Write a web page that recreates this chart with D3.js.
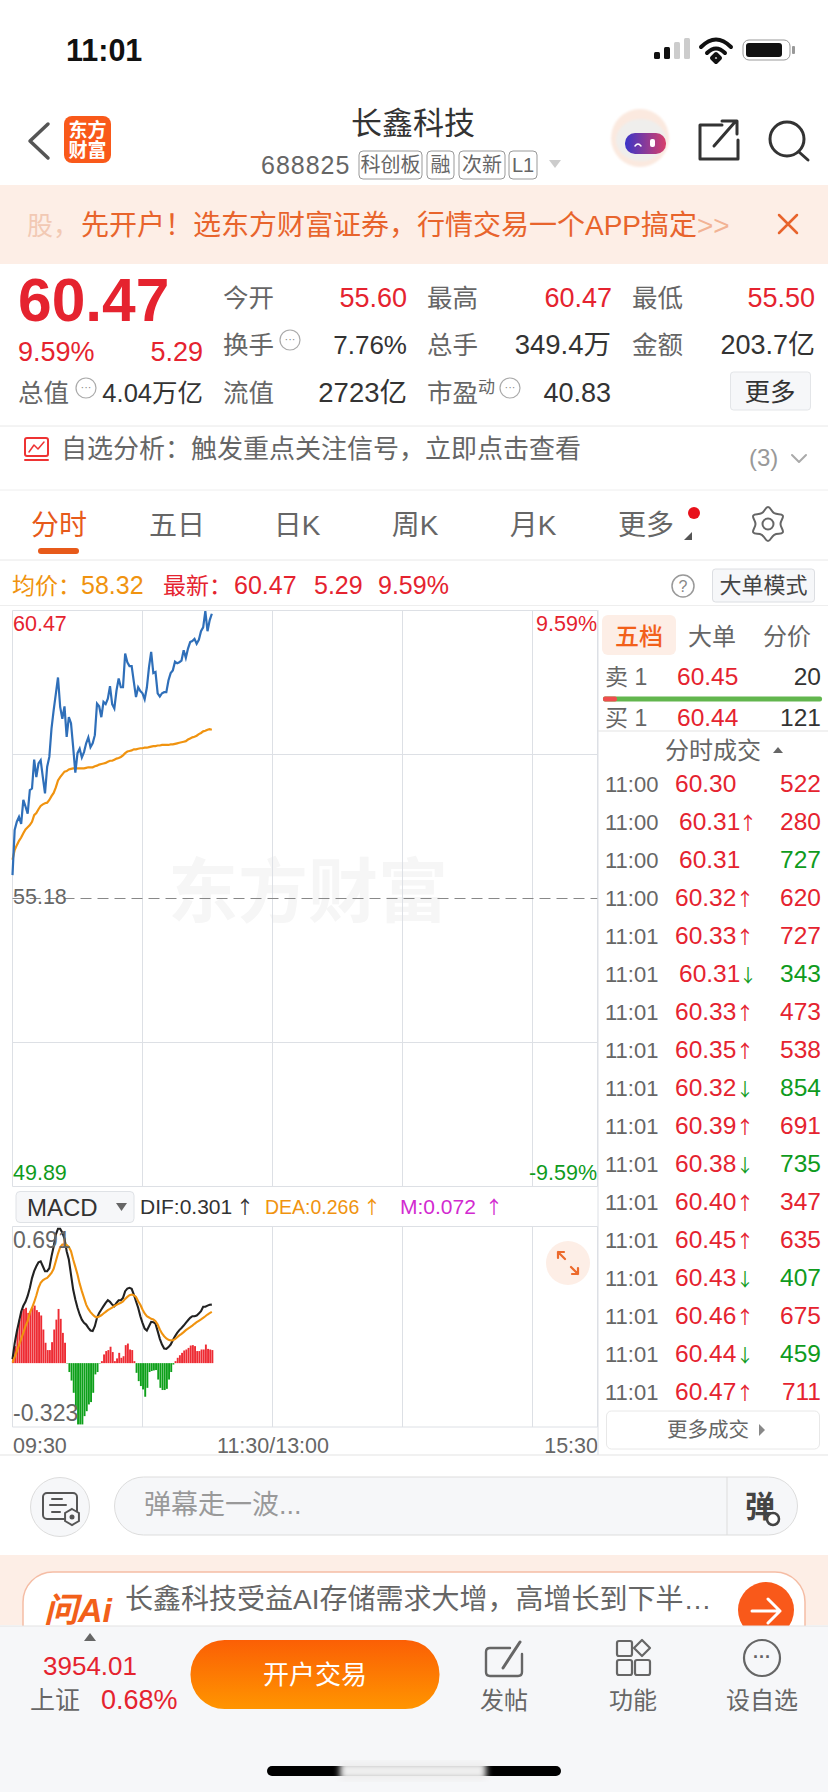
<!DOCTYPE html>
<html lang="zh">
<head>
<meta charset="UTF-8">
<title>长鑫科技 分时</title>
<script src="https://d3js.org/d3.v7.min.js"></script>
<style>
  html, body { margin: 0; padding: 0; background: #fff; }
  svg { display: block; }
  text { font-family: "Liberation Sans", "Noto Sans CJK SC", sans-serif; }
</style>
</head>
<body>
<svg id="app" width="828" height="1792"></svg>
<script>
// 分时价格，每分钟一个点，从 09:30 开始
const price = [55.61,56.44,56.59,56.68,56.55,56.99,56.87,56.74,57.17,57.20,57.73,57.41,57.66,57.72,57.41,57.11,57.60,57.78,58.30,58.64,58.94,59.24,58.70,58.48,58.71,58.15,58.51,58.40,57.96,57.49,57.85,57.93,57.77,57.87,58.03,58.14,57.96,58.03,58.18,58.76,58.71,58.51,58.79,58.75,58.85,59.08,58.75,58.67,59.00,59.22,59.06,59.06,59.68,59.52,59.45,59.45,59.16,58.88,59.06,58.99,58.95,58.84,59.05,59.43,59.71,59.32,59.34,58.95,58.89,58.95,58.97,58.97,59.19,59.32,59.37,59.53,59.50,59.52,59.55,59.74,59.60,59.77,59.89,59.91,59.95,59.86,59.93,60.09,60.16,60.46,60.09,60.29,60.41];
const avgPrice = [55.89,56.07,56.16,56.24,56.30,56.38,56.45,56.49,56.53,56.59,56.71,56.75,56.82,56.88,56.91,56.93,56.94,56.99,57.06,57.12,57.22,57.35,57.41,57.46,57.51,57.52,57.55,57.56,57.57,57.57,57.57,57.57,57.57,57.57,57.58,57.59,57.59,57.59,57.61,57.62,57.64,57.65,57.66,57.67,57.69,57.71,57.71,57.73,57.75,57.76,57.78,57.81,57.85,57.88,57.89,57.90,57.92,57.92,57.93,57.94,57.94,57.95,57.95,57.96,57.97,57.98,57.98,57.99,57.99,58.00,58.00,58.00,58.00,58.01,58.01,58.02,58.03,58.04,58.05,58.06,58.07,58.10,58.12,58.14,58.15,58.17,58.20,58.22,58.25,58.26,58.28,58.29,58.28];
const macdHist = [.02,.086,.17,.22,.263,.274,.28,.254,.263,.28,.291,.268,.258,.241,.17,.103,.066,.066,.106,.17,.22,.274,.224,.153,.103,-.002,-.045,-.088,-.15,-.234,-.31,-.31,-.31,-.268,-.243,-.209,-.197,-.15,-.057,-.045,-.002,.01,.044,.061,.066,.083,.056,.01,.024,.052,.027,.035,.091,.099,.069,.066,.01,-.049,-.091,-.116,-.133,-.17,-.125,-.045,-.04,-.037,-.035,-.083,-.125,-.136,-.136,-.13,-.083,-.045,-.007,.01,.027,.04,.052,.064,.069,.077,.089,.091,.086,.061,.061,.069,.069,.094,.072,.069,.066];
const dif = [.02,.10,.16,.21,.26,.29,.31,.34,.38,.43,.465,.49,.51,.515,.49,.465,.465,.48,.54,.59,.65,.68,.68,.66,.63,.566,.524,.448,.372,.322,.28,.246,.22,.204,.195,.178,.165,.162,.187,.229,.254,.271,.288,.305,.318,.31,.296,.288,.305,.318,.318,.33,.364,.377,.381,.376,.347,.313,.28,.237,.204,.175,.165,.187,.209,.207,.2,.162,.123,.094,.074,.072,.081,.094,.116,.136,.153,.167,.178,.19,.204,.217,.229,.237,.237,.241,.251,.263,.285,.285,.291,.295,.296];
const dea = [.002,.03,.061,.091,.123,.153,.187,.212,.254,.28,.308,.342,.381,.406,.419,.426,.431,.443,.456,.477,.515,.554,.586,.6,.6,.598,.588,.566,.524,.487,.448,.402,.364,.33,.296,.274,.258,.246,.236,.232,.236,.242,.251,.259,.268,.274,.281,.288,.295,.3,.305,.312,.325,.335,.344,.347,.344,.335,.313,.295,.271,.251,.237,.231,.224,.221,.212,.195,.17,.15,.136,.125,.118,.115,.116,.121,.131,.14,.148,.157,.167,.175,.182,.19,.199,.207,.214,.221,.229,.237,.246,.253,.259];

const gridMinutes = [0, 60, 120, 180, 240, 270];
const gridPrices = [60.47, 57.825, 52.535, 49.89];
const preClose = 55.18;
const timeTicks = [0, 120, 270];
const timeLabels = ["09:30", "11:30/13:00", "15:30"];

const trades = [
  ["11:00","60.30","","522","r"],["11:00","60.31","↑","280","r"],["11:00","60.31","","727","g"],
  ["11:00","60.32","↑","620","r"],["11:01","60.33","↑","727","r"],["11:01","60.31","↓","343","g"],
  ["11:01","60.33","↑","473","r"],["11:01","60.35","↑","538","r"],["11:01","60.32","↓","854","g"],
  ["11:01","60.39","↑","691","r"],["11:01","60.38","↓","735","g"],["11:01","60.40","↑","347","r"],
  ["11:01","60.45","↑","635","r"],["11:01","60.43","↓","407","g"],["11:01","60.46","↑","675","r"],
  ["11:01","60.44","↓","459","g"],["11:01","60.47","↑","711","r"]
];
const tabs = [["分时",59],["五日",177],["日K",297],["周K",415],["月K",533],["更多",646]];

const RED = "#e5232f", GREEN = "#0f9b1d", ORANGE = "#f0930f", GRAY = "#666", DARK = "#333", LINE = "#dde0e5";
const svg = d3.select("#app");

function txt(x, y, s, size, fill, anchor, weight) {
  return svg.append("text").attr("x", x).attr("y", y).text(s)
    .attr("font-size", size).attr("fill", fill || DARK)
    .attr("text-anchor", anchor || "start").attr("font-weight", weight || 400);
}
function rect(x, y, w, h, fill, stroke, r) {
  return svg.append("rect").attr("x", x).attr("y", y).attr("width", w).attr("height", h)
    .attr("fill", fill || "none").attr("stroke", stroke || "none").attr("rx", r || 0);
}
function hline(x1, x2, y, c) {
  svg.append("line").attr("x1", x1).attr("x2", x2).attr("y1", y).attr("y2", y).attr("stroke", c || LINE).attr("stroke-width", 1);
}
function path(d, stroke, w, fill) {
  return svg.append("path").attr("d", d).attr("stroke", stroke || "none").attr("stroke-width", w || 2)
    .attr("fill", fill || "none").attr("stroke-linecap", "round").attr("stroke-linejoin", "round");
}
// 箭头单独用 CJK 字体，Liberation 的箭头太窄
function arrow(x, y, s, size, fill) {
  return txt(x, y, s, size, fill).style("font-family", '"Noto Sans CJK SC"');
}

const defs = svg.append("defs");
const grad = defs.append("linearGradient").attr("id", "btn").attr("x1", 0).attr("x2", 0).attr("y1", 0).attr("y2", 1);
grad.append("stop").attr("offset", 0).attr("stop-color", "#fb5f05");
grad.append("stop").attr("offset", 1).attr("stop-color", "#ff9500");
const visor = defs.append("linearGradient").attr("id", "visor");
visor.append("stop").attr("offset", 0).attr("stop-color", "#3a35c8");
visor.append("stop").attr("offset", 1).attr("stop-color", "#d8406a");
const soft = defs.append("filter").attr("id", "soft").attr("x", "-10%").attr("width", "120%");
soft.append("feGaussianBlur").attr("stdDeviation", 3);
const soft2 = defs.append("filter").attr("id", "soft2").attr("x", "-20%").attr("y", "-20%").attr("width", "140%").attr("height", "140%");
soft2.append("feGaussianBlur").attr("stdDeviation", 1.2);

// 状态栏
txt(66, 61, "11:01", 30.5, "#111", "start", 600);
[[654,52,7],[664,47,12],[674,42,17],[684,38,21]].forEach((b, i) => rect(b[0], b[1], 6, b[2], i < 2 ? "#111" : "#ccc", null, 1.5));
path("M701 47 Q716 32 731 47 M707 53 Q716 44 725 53 M712 58 L716 54 L720 58 L716 62 Z", "#111", 4);
rect(743, 40, 47, 20, "none", "#999", 6);
rect(746, 43, 36, 14, "#111", null, 3);
rect(792, 46, 3, 8, "#999", null, 1);

// 标题栏
path("M48 124 L30 141 L48 158", "#555", 3.5);
rect(64, 116, 47, 47, "#f9591a", null, 8);
txt(87.5, 137, "东方", 19, "#fff", "middle", 700);
txt(87.5, 157, "财富", 19, "#fff", "middle", 700);
txt(413, 134, "长鑫科技", 31, DARK, "middle");
txt(261, 174, "688825", 25, GRAY).attr("letter-spacing", 1);
[[359,63,"科创板"],[427,27,"融"],[459,46,"次新"],[509,28,"L1"]].forEach(b => {
  rect(b[0], 151, b[1], 28, "#fff", "#999", 4);
  txt(b[0] + b[1] / 2, 172, b[2], 20, GRAY, "middle");
});
path("M549 160 L561 160 L555 168 Z", null, 0, "#ccc");
svg.append("circle").attr("cx", 640).attr("cy", 138).attr("r", 29).attr("fill", "#fbe9df").attr("filter", "url(#soft2)");
svg.append("ellipse").attr("cx", 641).attr("cy", 140).attr("rx", 25).attr("ry", 21).attr("fill", "#efeeec").attr("filter", "url(#soft2)");
rect(625, 133, 41, 21, "url(#visor)", null, 10);
path("M635 146 Q638 142 641 146", "#fff", 1.5);
rect(650, 139, 5, 8, "#fff", null, 2);
path("M722 125 L700 125 L700 159 L738 159 L738 140 M714 146 L735 122 M722 121 L737 121 L737 134", "#333", 3);
svg.append("circle").attr("cx", 787).attr("cy", 139).attr("r", 17).attr("fill", "none").attr("stroke", "#333").attr("stroke-width", 3);
path("M799 152 L808 160", "#333", 3);

// 开户横幅
rect(0, 185, 828, 79, "#fdeee6");
txt(27, 235, "股，", 26, "#f2c9b4");
txt(81, 235, "先开户！选东方财富证券，行情交易一个APP搞定", 28, "#e8642c");
txt(697, 235, ">>", 28, "#f2b394");
path("M779 215 L797 233 M797 215 L779 233", "#e8642c", 2.5);

// 行情数据
txt(18, 321, "60.47", 60.5, RED, "start", 700);
txt(18, 361, "9.59%", 27, RED);
txt(203, 361, "5.29", 27, RED, "end");
const quote = [
  [223, 307, "今开", 407, "55.60", RED, 27], [427, 307, "最高", 612, "60.47", RED, 27], [632, 307, "最低", 815, "55.50", RED, 27],
  [223, 354, "换手", 407, "7.76%", DARK, 26], [427, 354, "总手", 611, "349.4万", DARK, 27.5], [632, 354, "金额", 815, "203.7亿", DARK, 27],
  [223, 402, "流值", 407, "2723亿", DARK, 27.5], [427, 402, "市盈", 611, "40.83", DARK, 27]
];
quote.forEach(q => { txt(q[0], q[1], q[2], 25.5, GRAY); txt(q[3], q[1], q[4], q[6], q[5], "end"); });
txt(18, 402, "总值", 25.5, GRAY);
txt(203, 402, "4.04万亿", 25.5, DARK, "end");
txt(478, 393, "动", 17, GRAY);
[[290,340],[86,388],[510,388]].forEach(c => {
  svg.append("circle").attr("cx", c[0]).attr("cy", c[1]).attr("r", 10).attr("fill", "none").attr("stroke", "#aaa").attr("stroke-width", 1.2);
  txt(c[0], c[1] + 3, "···", 11, "#888", "middle");
});
rect(730.5, 372, 80, 38, "#f6f7f9", "#e3e5e8", 3);
txt(770, 401, "更多", 25.5, DARK, "middle");
hline(0, 828, 426, "#e8e8e8");

// 自选分析
rect(25, 438, 23, 18, "none", "#e33", 2).attr("stroke-width", 2);
path("M29 452 L34 445 L38 449 L44 442", "#e33", 1.5);
path("M25 460 L48 460", "#e33", 2);
txt(61, 458, "自选分析：触发重点关注信号，立即点击查看", 26, GRAY);
txt(749, 466, "(3)", 24, "#999");
path("M792 455 L799 462 L806 455", "#aaa", 2);
hline(0, 828, 490, "#eee");

// 周期标签
tabs.forEach((t, i) => txt(t[1], 535, t[0], 28, i == 0 ? "#e75a1a" : GRAY, "middle"));
rect(38, 548, 41, 6, "#e75a1a", null, 3);
svg.append("circle").attr("cx", 694).attr("cy", 513).attr("r", 6).attr("fill", "#e8111b");
path("M684 540 L692 532 L692 540 Z", null, 0, "#555");
const gearPts = d3.range(12).map(i => [i * Math.PI / 6, i % 2 ? 12.5 : 17]);
svg.append("path").attr("transform", "translate(768,524)")
  .attr("d", d3.lineRadial().curve(d3.curveCardinalClosed.tension(-0.3))(gearPts))
  .attr("fill", "none").attr("stroke", "#666").attr("stroke-width", 2);
svg.append("circle").attr("cx", 768).attr("cy", 524).attr("r", 5.5).attr("fill", "none").attr("stroke", "#666").attr("stroke-width", 2);
hline(0, 828, 560, "#e8e8e8");

// 均价行
txt(12, 594, "均价：", 23, ORANGE);
txt(81, 594, "58.32", 25, ORANGE);
txt(163, 594, "最新：", 23, RED);
txt(234, 594, "60.47", 25, RED);
txt(314, 594, "5.29", 25, RED);
txt(378, 594, "9.59%", 25, RED);
svg.append("circle").attr("cx", 683).attr("cy", 586).attr("r", 11).attr("fill", "none").attr("stroke", "#999").attr("stroke-width", 1.5);
txt(683, 592, "?", 16, "#888", "middle");
rect(712.5, 569, 102, 33, "#f6f7f9", "#dcdee2", 3);
txt(763.5, 593, "大单模式", 22, "#444", "middle");
hline(0, 828, 605.5, "#eee");

// 水印
txt(168, 917, "东方财富", 70, "#f6f6f6", "start", 700);

// ---- 分时图 ----
const x = d3.scaleLinear().domain([0, 270]).range([12.5, 597.5]);
const yP = d3.scaleLinear().domain([49.89, 60.47]).range([1186.5, 610.5]);
const yM = d3.scaleLinear().domain([-0.323, 0.691]).range([1427, 1226.5]);

const grid = svg.append("g").attr("stroke", LINE).attr("stroke-width", 1);
gridMinutes.forEach(m => {
  grid.append("line").attr("x1", x(m)).attr("x2", x(m)).attr("y1", yP.range()[1]).attr("y2", yP.range()[0]);
  grid.append("line").attr("x1", x(m)).attr("x2", x(m)).attr("y1", yM.range()[1]).attr("y2", yM.range()[0]);
});
gridPrices.forEach(p => {
  grid.append("line").attr("x1", x(0)).attr("x2", x(270)).attr("y1", yP(p)).attr("y2", yP(p));
});
[yM.range()[0], yM.range()[1]].forEach(v => grid.append("line").attr("x1", x(0)).attr("x2", x(270)).attr("y1", v).attr("y2", v));
svg.append("line").attr("x1", x(0)).attr("x2", x(270)).attr("y1", yP(preClose)).attr("y2", yP(preClose))
  .attr("stroke", "#888").attr("stroke-dasharray", "11 6");

const priceLine = d3.line().x((d, i) => x(i)).y(d => yP(d));
svg.append("path").datum(avgPrice).attr("d", priceLine).attr("fill", "none").attr("stroke", ORANGE).attr("stroke-width", 2.2);
svg.append("path").datum(price).attr("d", priceLine).attr("fill", "none").attr("stroke", "#2f6fb9").attr("stroke-width", 2.2);

txt(13, 631, "60.47", 21.5, RED);
txt(597, 631, "9.59%", 21.5, RED, "end");
txt(13, 904, "55.18", 21.5, GRAY);
txt(13, 1180, "49.89", 21.5, GREEN);
txt(597, 1180, "-9.59%", 21.5, GREEN, "end");

// MACD 头部
rect(16, 1191.5, 118, 31, "#f6f7f9", "#dfe2e6", 4);
txt(27, 1216, "MACD", 24, DARK);
path("M116 1203 L127 1203 L121.5 1211 Z", null, 0, "#666");
txt(140, 1214, "DIF:0.301", 21, DARK);
arrow(236, 1214, "↑", 18, DARK);
txt(265, 1214, "DEA:0.266", 19.5, ORANGE);
arrow(363, 1214, "↑", 18, ORANGE);
txt(400, 1214, "M:0.072", 21, "#d22ad0");
arrow(485, 1214, "↑", 18, "#d22ad0");

// MACD 柱
svg.selectAll(".hist").data(macdHist).enter().append("rect").attr("class", "hist")
  .attr("x", (d, i) => x(i) - 0.4)
  .attr("y", d => d > 0 ? yM(d) : yM(0))
  .attr("width", 1.9)
  .attr("height", d => Math.abs(yM(d) - yM(0)))
  .attr("fill", d => d > 0 ? "#ee2b33" : "#0ea01a");
const macdLine = d3.line().x((d, i) => x(i)).y(d => yM(d));
svg.append("path").datum(dif).attr("d", macdLine).attr("fill", "none").attr("stroke", "#222").attr("stroke-width", 2.1);
svg.append("path").datum(dea).attr("d", macdLine).attr("fill", "none").attr("stroke", ORANGE).attr("stroke-width", 2.1);
txt(13, 1248, "0.691", 23, GRAY);
txt(13, 1421, "-0.323", 23, GRAY);

// 放大按钮
svg.append("circle").attr("cx", 568).attr("cy", 1263).attr("r", 22).attr("fill", "#fdeee6");
path("M558 1258 L558 1252 L564 1252 M558 1252 L565 1259 M578 1268 L578 1274 L572 1274 M578 1274 L571 1267", "#ec6a2c", 2.2);

// 时间轴
const timeAxis = d3.axisBottom(x).tickValues(timeTicks).tickFormat((d, i) => timeLabels[i]).tickSize(0);
const axisG = svg.append("g").attr("transform", "translate(0,1427)").call(timeAxis);
axisG.select(".domain").remove();
axisG.selectAll("text").attr("font-size", 21.5).attr("fill", GRAY).attr("y", 11)
  .attr("font-family", '"Liberation Sans","Noto Sans CJK SC"')
  .attr("text-anchor", (d, i) => ["start", "middle", "end"][i]);
hline(0, 828, 1455, "#e3e3e3");

// 右侧盘口
svg.append("line").attr("x1", 598).attr("x2", 598).attr("y1", 610).attr("y2", 1455).attr("stroke", LINE);
rect(602, 615, 74, 40, "#fdeee6", null, 6);
txt(639, 645, "五档", 24, "#f2601a", "middle", 500);
txt(712, 645, "大单", 24, GRAY, "middle");
txt(787, 645, "分价", 24, GRAY, "middle");
txt(605, 685, "卖 1", 23, GRAY);
txt(677, 685, "60.45", 24.5, RED);
txt(821, 685, "20", 24.5, DARK, "end");
rect(603, 696.5, 219, 5, "#62b64e", null, 2);
rect(603, 696.5, 14, 5, "#ef4d4d", null, 2);
txt(605, 726, "买 1", 23, GRAY);
txt(677, 726, "60.44", 24.5, RED);
txt(821, 726, "121", 24.5, DARK, "end");
hline(598, 828, 731, "#e3e3e3");
txt(713, 759, "分时成交", 24, GRAY, "middle");
path("M773 753 L783 753 L778 747 Z", null, 0, "#666");
trades.forEach((t, i) => {
  const y = 792 + i * 38;
  txt(605, y, t[0], 22, GRAY);
  // 60.31 的 1 较窄，原图这两行整体右移一点
  txt(t[1] == "60.31" ? 679 : 675, y, t[1], 24.5, RED);
  if (t[2]) arrow(t[1] == "60.31" ? 739 : 736, y, t[2], 18, t[2] == "↑" ? RED : GREEN);
  txt(821, y, t[3], 24.5, t[4] == "r" ? RED : GREEN, "end");
});
rect(606.5, 1411, 213, 38, "#fff", "#e8e8e8", 5);
txt(708, 1437, "更多成交", 20.5, GRAY, "middle");
path("M759 1424 L759 1436 L765 1430 Z", null, 0, "#888");

// 弹幕栏
svg.append("ellipse").attr("cx", 60).attr("cy", 1507).attr("rx", 29.5).attr("ry", 29.5).attr("fill", "#f6f7f9").attr("stroke", "#ddd");
rect(43, 1493, 34, 26, "none", "#555", 4).attr("stroke-width", 2);
path("M52 1499 L62 1499 M50 1505 L66 1505 M52 1512 L60 1512", "#555", 2);
const hexPts = d3.range(6).map(i => [i * Math.PI / 3, 8]);
svg.append("path").attr("transform", "translate(72,1517)")
  .attr("d", d3.lineRadial().curve(d3.curveLinearClosed)(hexPts))
  .attr("fill", "#f6f7f9").attr("stroke", "#555").attr("stroke-width", 2);
svg.append("circle").attr("cx", 72).attr("cy", 1517).attr("r", 2.5).attr("fill", "#555");
rect(114.5, 1477, 683, 58, "#f6f7f9", "#ddd", 29);
svg.append("line").attr("x1", 727).attr("x2", 727).attr("y1", 1477).attr("y2", 1535).attr("stroke", "#ddd");
txt(144, 1514, "弹幕走一波...", 27, "#999");
txt(745, 1517, "弹", 30, "#444", "start", 700);
svg.append("circle").attr("cx", 773).attr("cy", 1519).attr("r", 6).attr("fill", "#fff").attr("stroke", "#444").attr("stroke-width", 2.5);

// AI 横条
rect(0, 1555, 828, 70, "#fdeee6");
rect(23, 1572, 782, 90, "#fff", "#f5bda5", 30).attr("stroke-width", 1.5);
txt(44, 1622, "问Ai", 34, "#f2601a", "start", 700).attr("font-style", "italic");
txt(125, 1609, "长鑫科技受益AI存储需求大增，高增长到下半…", 28, GRAY);
svg.append("circle").attr("cx", 766).attr("cy", 1610).attr("r", 28).attr("fill", "#f9591a");
path("M752 1611 L780 1611 M768 1599 L780 1611 L768 1623", "#fff", 3);

// 底部栏
rect(0, 1626, 828, 166, "#f6f7f9");
hline(0, 828, 1626, "#e3e3e3");
path("M84 1641 L96 1641 L90 1633 Z", null, 0, "#666");
txt(90, 1675, "3954.01", 26, RED, "middle");
txt(30, 1709, "上证", 25, GRAY);
txt(101, 1709, "0.68%", 27, RED);
rect(190.5, 1640, 249, 69, "url(#btn)", null, 34);
txt(315, 1684, "开户交易", 26, "#fff", "middle");
path("M510 1648 L490 1648 Q486 1648 486 1652 L486 1672 Q486 1676 490 1676 L518 1676 Q522 1676 522 1672 L522 1654", "#666", 2.4);
path("M503 1668 L520 1642", "#666", 3);
[[617,1641],[617,1660],[635,1660]].forEach(b => rect(b[0], b[1], 15, 15, "none", "#666", 2).attr("stroke-width", 2.2));
path("M642 1640 L650 1648 L642 1656 L634 1648 Z", "#666", 2.2);
svg.append("circle").attr("cx", 762).attr("cy", 1658).attr("r", 18).attr("fill", "none").attr("stroke", "#666").attr("stroke-width", 2.2);
txt(762, 1663, "···", 18, "#666", "middle", 700);
txt(504, 1709, "发帖", 24, GRAY, "middle");
txt(633, 1709, "功能", 24, GRAY, "middle");
txt(762, 1709, "设自选", 24, GRAY, "middle");
rect(267, 1766, 294, 10, "#000", null, 5);
rect(340, 1762, 146, 18, "#eee").attr("filter", "url(#soft)");
</script>
</body>
</html>
